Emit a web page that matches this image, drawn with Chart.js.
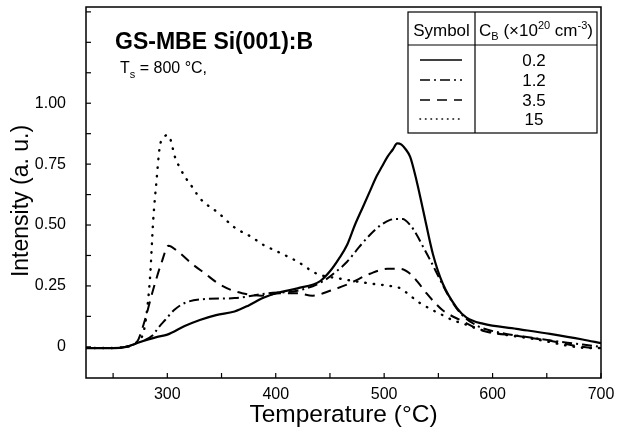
<!DOCTYPE html>
<html>
<head>
<meta charset="utf-8">
<script src="https://cdn.jsdelivr.net/npm/chart.js@4/dist/chart.umd.min.js"></script>
<style>
html,body{margin:0;padding:0;background:#fff;}
#wrap{width:618px;height:440px;}
</style>
</head>
<body>
<div id="wrap"><canvas id="c" width="618" height="440"></canvas></div>
<script>
// ---- data ----
const xTickValues = [300, 400, 500, 600, 700];
const xMinorTicks = [250, 350, 450, 550, 650];
const yTickValues = [0, 0.25, 0.5, 0.75, 1.0];
const yMinorTicks = [0.125, 0.375, 0.625, 0.875, 1.125, 1.25, 1.375];

const legendLabels = ["0.2", "1.2", "3.5", "15"];

const solidT = [225,250,262,275,290,300,316,330,345,362,375,388,400,420,441,450,458,466,473,480,487,493,498,503,508,512,516,520,524,530,536,545,554,567,576,591,622,653,683,700];
const solidI = [-0.005,-0.005,0.0,0.02,0.04,0.05,0.085,0.11,0.13,0.145,0.17,0.2,0.22,0.24,0.27,0.31,0.36,0.42,0.5,0.57,0.64,0.70,0.74,0.78,0.81,0.835,0.83,0.81,0.78,0.68,0.56,0.38,0.26,0.16,0.12,0.095,0.074,0.053,0.03,0.015];

const dashDotT = [225,250,262,275,286,292,298,306,316,332,362,393,420,444,456,466,477,487,497,505,511,517,524,530,536,542,550,558,570,586,607,637,669,693,700];
const dashDotI = [-0.005,-0.005,0,0.02,0.045,0.08,0.11,0.15,0.18,0.195,0.2,0.22,0.23,0.27,0.31,0.35,0.41,0.46,0.5,0.52,0.525,0.525,0.5,0.46,0.41,0.36,0.29,0.22,0.14,0.086,0.058,0.037,0.017,0.004,0.0];

const dashedT = [225,250,262,272,280,286,295,301,310,323,335,347,358,369,387,404,420,434,450,468,487,503,515,524,532,539,547,554,570,591,622,653,690,700];
const dashedI = [-0.005,-0.005,0,0.02,0.12,0.22,0.35,0.415,0.39,0.34,0.3,0.26,0.235,0.22,0.21,0.22,0.22,0.21,0.23,0.26,0.30,0.32,0.32,0.30,0.26,0.22,0.18,0.15,0.11,0.066,0.045,0.025,-0.004,-0.005];

const dottedT = [225,250,262,272,279,284,287,290,293,297,300,303,307,311,316,324,330,347,362,378,388,402,420,438,459,487,505,515,524,533,545,554,563,573,586,607,637,690,700];
const dottedI = [-0.005,-0.005,0,0.02,0.08,0.28,0.52,0.68,0.82,0.86,0.87,0.85,0.78,0.74,0.70,0.65,0.61,0.55,0.49,0.45,0.42,0.39,0.35,0.30,0.28,0.26,0.25,0.24,0.21,0.18,0.15,0.13,0.11,0.095,0.074,0.053,0.033,-0.005,-0.005];

// ---- styles ----
const FONT = "'Liberation Sans', Arial, Helvetica, sans-serif";
const styles = [
  {dash: [], width: 2.2, cap: 'butt'},
  {dash: [10, 4, 2, 4], width: 2, cap: 'butt'},
  {dash: [10, 7], width: 2, cap: 'butt'},
  {dash: [0.5, 8], width: 2.4, cap: 'round'}
];
const seriesT = [solidT, dashDotT, dashedT, dottedT];
const seriesI = [solidI, dashDotI, dashedI, dottedI];

const datasets = seriesT.map((T, k) => ({
  label: legendLabels[k],
  data: T.map((t, i) => ({x: t, y: seriesI[k][i]})),
  borderColor: '#000',
  borderWidth: styles[k].width,
  borderDash: styles[k].dash,
  borderCapStyle: styles[k].cap,
  pointRadius: 0,
  fill: false,
  cubicInterpolationMode: 'monotone'
}));

const decor = {
  id: 'decor',
  afterDraw(chart) {
    const ctx = chart.ctx;
    const a = chart.chartArea;
    const xs = chart.scales.x, ys = chart.scales.y;
    ctx.save();
    // frame
    ctx.strokeStyle = '#000';
    ctx.lineWidth = 1.5;
    ctx.setLineDash([]);
    ctx.strokeRect(a.left, a.top, a.right - a.left, a.bottom - a.top);
    // inward ticks
    ctx.lineWidth = 1.2;
    const tl = 5;
    xTickValues.concat(xMinorTicks).forEach(v => {
      const px = xs.getPixelForValue(v);
      ctx.beginPath(); ctx.moveTo(px, a.bottom); ctx.lineTo(px, a.bottom - tl); ctx.stroke();
    });
    yTickValues.concat(yMinorTicks).forEach(v => {
      const py = ys.getPixelForValue(v);
      ctx.beginPath(); ctx.moveTo(a.left, py); ctx.lineTo(a.left + tl, py); ctx.stroke();
    });
    ctx.fillStyle = '#000';
    // y axis title
    ctx.save();
    ctx.translate(22, 201);
    ctx.rotate(-Math.PI / 2);
    ctx.textAlign = 'center';
    ctx.textBaseline = 'middle';
    ctx.font = '23px ' + FONT;
    ctx.fillText('Intensity (a. u.)', 0, 0);
    ctx.restore();
    // title texts
    ctx.textBaseline = 'alphabetic';
    ctx.textAlign = 'left';
    ctx.font = 'bold 23px ' + FONT;
    ctx.fillText('GS-MBE Si(001):B', 115, 49);
    ctx.font = '16px ' + FONT;
    let x = 120, y = 73;
    ctx.fillText('T', x, y); x += ctx.measureText('T').width;
    ctx.font = '11px ' + FONT;
    ctx.fillText('s', x, y + 5); x += ctx.measureText('s').width;
    ctx.font = '16px ' + FONT;
    ctx.fillText(' = 800 °C,', x, y);

    // legend table
    const L = 408, R = 597, T = 12, B = 133, D = 475, H = 45;
    ctx.lineWidth = 1.2;
    ctx.strokeRect(L, T, R - L, B - T);
    ctx.beginPath(); ctx.moveTo(D, T); ctx.lineTo(D, B); ctx.stroke();
    ctx.beginPath(); ctx.moveTo(L, H); ctx.lineTo(R, H); ctx.stroke();
    ctx.font = '17px ' + FONT;
    ctx.textAlign = 'center';
    ctx.fillText('Symbol', (L + D) / 2, 36);
    // header right
    const parts = [
      ['C', 17, 0], ['B', 11, 4], [' (\u00d710', 17, 0], ['20', 11, -7], [' cm', 17, 0], ['-3', 11, -7], [')', 17, 0]
    ];
    let w = 0;
    parts.forEach(p => { ctx.font = p[1] + 'px ' + FONT; w += ctx.measureText(p[0]).width; });
    x = (D + R) / 2 - w / 2;
    ctx.textAlign = 'left';
    parts.forEach(p => {
      ctx.font = p[1] + 'px ' + FONT;
      ctx.fillText(p[0], x, 36 + p[2]);
      x += ctx.measureText(p[0]).width;
    });
    const rowsY = [60, 80, 100, 119];
    ctx.textAlign = 'center';
    ctx.font = '17px ' + FONT;
    rowsY.forEach((ry, k) => {
      ctx.setLineDash(styles[k].dash.length === 2 && styles[k].cap === 'round' ? [0.5, 5] : styles[k].dash);
      ctx.lineCap = styles[k].cap;
      ctx.lineWidth = Math.min(styles[k].width, 1.6);
      ctx.beginPath(); ctx.moveTo(420, ry); ctx.lineTo(462, ry); ctx.stroke();
      ctx.setLineDash([]);
      ctx.fillText(legendLabels[k], 534, ry + 6);
    });
    ctx.restore();
  }
};

new Chart(document.getElementById('c'), {
  type: 'line',
  data: {datasets},
  options: {
    responsive: false,
    animation: false,
    layout: {padding: {top: 7, right: 17, left: 0, bottom: 0}},
    plugins: {legend: {display: false}, tooltip: {enabled: false}},
    scales: {
      x: {
        type: 'linear', min: 225, max: 700,
        afterFit: s => { s.height = 62; s.paddingLeft = 0; s.paddingRight = 0; },
        afterBuildTicks: s => { s.ticks = xTickValues.map(v => ({value: v})); },
        grid: {display: false, drawTicks: false},
        border: {display: false},
        ticks: {color: '#000', font: {family: FONT, size: 16}, padding: 7, maxRotation: 0, autoSkip: false,
          callback: v => String(v)},
        title: {display: true, text: 'Temperature (°C)', color: '#000', font: {family: FONT, size: 24.5}, padding: {top: 0, bottom: 10}}
      },
      y: {
        type: 'linear', min: -0.128, max: 1.395,
        afterFit: s => { s.width = 86; s.paddingTop = 0; s.paddingBottom = 0; },
        afterBuildTicks: s => { s.ticks = yTickValues.map(v => ({value: v})); },
        grid: {display: false, drawTicks: false},
        border: {display: false},
        ticks: {color: '#000', font: {family: FONT, size: 16}, padding: 20, autoSkip: false,
          callback: v => v === 0 ? '0' : Number(v).toFixed(2)},
        title: {display: false}
      }
    }
  },
  plugins: [decor]
});
</script>
</body>
</html>
